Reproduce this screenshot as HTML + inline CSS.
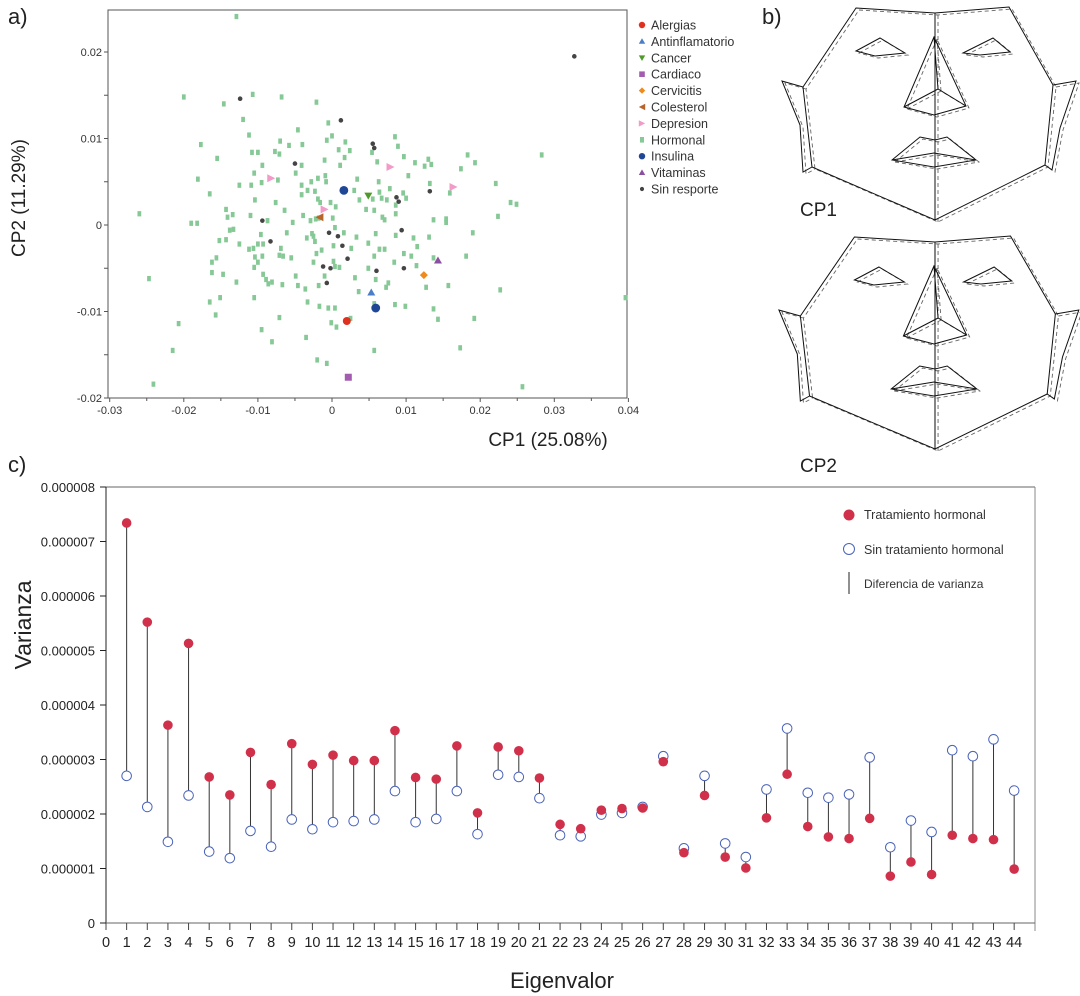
<!DOCTYPE html>
<html><head><meta charset="utf-8">
<style>
html,body{margin:0;padding:0;background:#fff;}
svg{display:block;font-family:"Liberation Sans",sans-serif;}
</style></head>
<body>
<svg id="fig" width="1080" height="996" viewBox="0 0 1080 996" xmlns="http://www.w3.org/2000/svg">
<text x="8" y="24" font-size="22" fill="#222">a)</text>
<text x="762" y="24" font-size="22" fill="#222">b)</text>
<text x="8" y="472" font-size="22" fill="#222">c)</text>
<g id="pa"></g>
<g id="pb"></g>
<g id="pc"></g>
</svg>
<script>
// ---------- Panel a data (values x1000) ----------
const hormX=[-12.9,-20.0,-10.7,-6.8,-14.6,-2.1,-12.0,-0.5,-11.2,-4.6,0.0,-0.7,8.5,-17.7,-7.0,-5.8,-4.0,1.8,8.9,-10.8,-10.0,-7.7,-7.1,0.9,2.4,5.4,-15.5,-9.4,-1.0,1.7,1.1,6.1,9.7,11.2,12.5,13.0,13.4,18.3,19.3,17.4,28.3,-10.5,-18.1,-7.3,-4.9,-4.1,-1.9,-0.9,-2.8,-0.8,3.4,6.3,10.3,13.2,22.1,-12.5,-10.9,-9.5,-4.1,-3.3,-2.3,-1.9,-1.6,-10.4,-16.5,-7.6,-4.1,-0.2,0.5,3.0,3.7,5.5,6.4,6.7,7.4,7.8,8.6,9.6,10.0,15.9,24.1,24.9,-26.0,-19.0,-18.2,-14.3,-14.1,-13.4,-11.0,-8.7,-6.4,-5.3,-3.9,-2.9,-2.2,-1.8,0.1,4.6,5.7,6.8,7.1,8.6,13.7,15.4,15.4,22.4,-13.8,-13.3,-9.6,-6.1,-2.7,-2.5,0.4,1.6,5.9,8.6,11.0,13.1,19.0,-15.2,-14.3,-12.5,-11.2,-10.6,-10.0,-9.3,-6.9,-3.4,-2.3,-1.4,0.2,2.6,3.3,4.9,6.4,7.1,11.5,9.7,10.7,13.7,18.1,-16.2,-15.6,-10.4,-9.4,-10.0,-7.1,-6.6,-5.5,-2.1,-2.5,0.2,5.7,8.4,-10.5,-9.3,-8.9,-8.6,-8.1,-6.7,-4.9,-1.0,-1.8,0.4,1.0,3.1,4.9,5.9,7.6,7.3,11.4,12.7,15.7,22.7,-16.2,-14.7,-12.9,-24.7,-16.5,-15.1,-10.5,-3.3,-3.6,3.6,-1.7,-0.5,0.4,5.7,8.5,9.9,13.7,39.6,-20.7,-15.7,-7.1,-9.5,-8.1,-0.1,0.6,14.3,19.2,-3.5,-21.5,5.7,17.3,-2.0,-0.7,-24.1,25.7,2.5,-4.6];
const hormY=[24.1,14.8,15.1,14.8,14.0,14.2,12.2,11.8,10.4,11.0,10.3,9.8,10.2,9.3,9.7,9.2,9.3,9.6,9.1,8.4,8.4,8.5,8.2,8.7,8.6,8.4,7.7,6.9,7.5,7.8,6.9,7.3,7.9,7.2,6.8,7.6,7.0,8.1,7.2,6.5,8.1,6.0,5.3,5.2,6.0,6.9,5.4,5.7,5.0,5.0,5.3,5.0,5.7,4.8,4.8,4.6,4.6,4.9,4.6,4.0,3.9,3.0,2.6,2.9,3.6,2.6,3.5,2.6,2.1,4.0,2.9,3.0,3.8,3.1,2.9,4.2,2.3,3.7,3.1,3.7,2.6,2.4,1.3,0.2,0.2,1.8,0.9,1.2,1.1,0.5,1.7,0.3,1.1,0.5,0.7,0.8,0.8,1.8,1.7,0.9,0.6,1.3,0.6,0.7,0.3,1.0,-0.6,-0.5,-1.1,-0.9,-1.0,-1.3,-0.3,-0.9,-1.0,-1.2,-1.5,-1.4,-0.9,-1.8,-1.7,-2.2,-2.8,-2.7,-2.2,-2.2,-2.7,-1.5,-1.9,-2.9,-2.4,-2.7,-1.4,-2.1,-2.8,-2.8,-2.5,-3.3,-3.6,-3.8,-3.6,-4.3,-3.8,-3.7,-3.6,-4.3,-3.5,-3.6,-3.8,-3.3,-4.3,-4.2,-3.6,-4.3,-4.9,-5.7,-6.3,-6.8,-6.6,-6.9,-5.9,-5.9,-7.0,-4.8,-4.9,-6.1,-5.0,-6.3,-6.7,-7.2,-4.7,-7.2,-7.0,-7.5,-5.5,-5.7,-6.6,-6.2,-8.9,-8.4,-8.4,-8.9,-7.4,-7.7,-9.4,-9.6,-9.6,-9.1,-9.2,-9.4,-9.7,-8.4,-11.4,-10.4,-10.7,-12.1,-13.5,-11.3,-11.8,-10.9,-10.8,-13.0,-14.5,-14.5,-14.2,-15.6,-16.0,-18.4,-18.7,-10.8,-7.0];
const sinX=[32.7,-12.4,1.2,5.5,5.7,-5.0,13.2,8.7,9.0,-9.4,-8.3,9.4,-0.4,0.8,1.4,2.1,-1.2,-0.2,6.0,9.7,-0.7];
const sinY=[19.5,14.6,12.1,9.4,8.9,7.1,3.9,3.2,2.7,0.5,-1.9,-0.6,-0.9,-1.3,-2.4,-3.9,-4.8,-5.0,-5.3,-5.0,-6.7];
const depX=[-8.2,7.9,16.4,-1.0], depY=[5.4,6.7,4.4,1.8];
const insX=[1.6,5.9], insY=[4.0,-9.6];
const others=[
 {cat:'Cancer',x:4.9,y:3.4},{cat:'Vitaminas',x:14.3,y:-4.1},{cat:'Cervicitis',x:12.4,y:-5.8},
 {cat:'Antinflamatorio',x:5.3,y:-7.8},{cat:'Alergias',x:2.0,y:-11.1},{cat:'Cardiaco',x:2.2,y:-17.6},{cat:'Colesterol',x:-1.7,y:0.9}];
const legendCats=['Alergias','Antinflamatorio','Cancer','Cardiaco','Cervicitis','Colesterol','Depresion','Hormonal','Insulina','Vitaminas','Sin resporte'];
const xTicksA=[-30,-20,-10,0,10,20,30,40];
const xTickLabA=['-0.03','-0.02','-0.01','0','0.01','0.02','0.03','0.04'];
const yTicksA=[20,10,0,-10,-20];
const yTickLabA=['0.02','0.01','0','-0.01','-0.02'];

// ---------- Panel c data (x1e-6) ----------
const eig=[1,2,3,4,5,6,7,8,9,10,11,12,13,14,15,16,17,18,19,20,21,22,23,24,25,26,27,28,29,30,31,32,33,34,35,36,37,38,39,40,41,42,43,44];
const hormVar=[7.34,5.52,3.63,5.13,2.68,2.35,3.13,2.54,3.29,2.91,3.08,2.98,2.98,3.53,2.67,2.64,3.25,2.02,3.23,3.16,2.66,1.81,1.73,2.07,2.10,2.11,2.96,1.29,2.34,1.21,1.01,1.93,2.73,1.77,1.58,1.55,1.92,0.86,1.12,0.89,1.61,1.55,1.53,0.99];
const sinVar=[2.70,2.13,1.49,2.34,1.31,1.19,1.69,1.40,1.90,1.72,1.85,1.87,1.90,2.42,1.85,1.91,2.42,1.63,2.72,2.68,2.29,1.61,1.59,1.99,2.02,2.13,3.06,1.37,2.70,1.46,1.21,2.45,3.57,2.39,2.30,2.36,3.04,1.39,1.88,1.67,3.17,3.06,3.37,2.43];
const yTicksC=[0,1,2,3,4,5,6,7,8];
const yTickLabC=['0','0.000001','0.000002','0.000003','0.000004','0.000005','0.000006','0.000007','0.000008'];

const NS='http://www.w3.org/2000/svg';
function mk(parent,tag,attrs,text){const e=document.createElementNS(NS,tag);for(const k in attrs)e.setAttribute(k,attrs[k]);if(text!==undefined)e.textContent=text;parent.appendChild(e);return e;}

// ===== Panel a =====
const pa=document.getElementById('pa');
const AL=108,AR=627,AT=10,AB=398;
const ax=v=>332+v*7.41;
const ay=v=>225-v*8.65;
let fr=mk(pa,'rect',{x:AL,y:AT,width:AR-AL,height:AB-AT,fill:'none',stroke:'#555','stroke-width':1});

for(let i=0;i<xTicksA.length;i++){
  const x=ax(xTicksA[i]);
  mk(pa,'line',{x1:x,y1:AB,x2:x,y2:AB+4,stroke:'#555'});
  if(i<xTicksA.length-1){const xm=ax(xTicksA[i]+5);mk(pa,'line',{x1:xm,y1:AB,x2:xm,y2:AB+3,stroke:'#555'});}
  const t=mk(pa,'text',{x:x,y:AB+16,'font-size':11,'text-anchor':'middle',fill:'#333'},xTickLabA[i]);
  
}
for(let v=-20;v<=24;v+=5){const y=ay(v);mk(pa,'line',{x1:AL-4,y1:y,x2:AL,y2:y,stroke:'#555'});}
for(let i=0;i<yTicksA.length;i++){
  const t=mk(pa,'text',{x:AL-6,y:ay(yTicksA[i])+4,'font-size':11,'text-anchor':'end',fill:'#333'},yTickLabA[i]);
  
}
let t1=mk(pa,'text',{x:548,y:446,'font-size':19,'text-anchor':'middle',fill:'#222'},'CP1 (25.08%)');

let t2=mk(pa,'text',{x:0,y:0,'font-size':19,'text-anchor':'middle',fill:'#222',transform:'translate(25,198) rotate(-90)'},'CP2 (11.29%)');


const colors={Alergias:'#e0301e',Antinflamatorio:'#4a7fc8',Cancer:'#4f9a2a',Cardiaco:'#a45cb0',Cervicitis:'#f08a1c',Colesterol:'#b8642a',Depresion:'#f29ac8',Hormonal:'#86c996',Insulina:'#1f4796',Vitaminas:'#8a4fa0','Sin resporte':'#444'};
function marker(g,cat,x,y,s){
  const c=colors[cat];let e;
  if(cat==='Hormonal') e=mk(g,'rect',{x:x-2.5*s,y:y-3.5*s,width:5*s,height:7*s,fill:c});
  else if(cat==='Sin resporte') e=mk(g,'circle',{cx:x,cy:y,r:2.3*s,fill:c});
  else if(cat==='Alergias'||cat==='Insulina') e=mk(g,'circle',{cx:x,cy:y,r:4*s,fill:c});
  else if(cat==='Antinflamatorio'||cat==='Vitaminas') e=mk(g,'polygon',{points:`${x},${y-4*s} ${x+4*s},${y+3*s} ${x-4*s},${y+3*s}`,fill:c});
  else if(cat==='Cancer') e=mk(g,'polygon',{points:`${x-4*s},${y-3*s} ${x+4*s},${y-3*s} ${x},${y+4*s}`,fill:c});
  else if(cat==='Cardiaco') e=mk(g,'rect',{x:x-3.5*s,y:y-3.5*s,width:7*s,height:7*s,fill:c});
  else if(cat==='Cervicitis') e=mk(g,'polygon',{points:`${x},${y-4*s} ${x+4*s},${y} ${x},${y+4*s} ${x-4*s},${y}`,fill:c});
  else if(cat==='Colesterol') e=mk(g,'polygon',{points:`${x+4*s},${y-4*s} ${x+4*s},${y+4*s} ${x-4*s},${y}`,fill:c});
  else if(cat==='Depresion') e=mk(g,'polygon',{points:`${x-4*s},${y-4*s} ${x-4*s},${y+4*s} ${x+4*s},${y}`,fill:c});
  return e;
}
const gH=mk(pa,'g',{});
for(let i=0;i<hormX.length;i++){
  const e=marker(gH,'Hormonal',ax(hormX[i]),ay(hormY[i]),0.75);
  
  
}
for(let i=0;i<sinX.length;i++){
  const e=marker(pa,'Sin resporte',ax(sinX[i]),ay(sinY[i]),1);
  
  
}
for(let i=0;i<depX.length;i++){
  const e=marker(pa,'Depresion',ax(depX[i]),ay(depY[i]),1);
  
  
}
for(let i=0;i<insX.length;i++){
  const e=marker(pa,'Insulina',ax(insX[i]),ay(insY[i]),1.1);
  
  
}
for(const o of others){
  const e=marker(pa,o.cat,ax(o.x),ay(o.y),1);
  
  
}
for(let i=0;i<legendCats.length;i++){
  const y=25+i*16.4;
  const g=mk(pa,'g',{});
  
  
  marker(g,legendCats[i],642,y,legendCats[i]==='Sin resporte'?0.9:0.8);
  mk(g,'text',{x:651,y:y+4.5,'font-size':12.5,fill:'#333'},legendCats[i]);
}

// ===== Panel b (faces) =====
const pb=document.getElementById('pb');
const faceSolid=[
 "M856,8 L935,13 L1009,7 L1053,85 L1045,165 L935,220 L812,167 L803,87 Z",
 "M935,13 L935,220",
 "M803,87 L782,81 L800,125 L803,172 L812,167",
 "M1053,85 L1076,81 L1060,128 L1052,170 L1045,165",
 "M856,51 L880,38 L905,53 L875,56 Z",
 "M963,53 L993,38 L1010,52 L980,55 Z",
 "M934,37 L904,107 L934,115 L966,106 Z M904,107 L938,89 L966,106 M938,89 L934,37",
 "M892,160 L920,137 L935,140 L947,137 L976,160 L934,167 Z M892,160 L934,153 L976,160"
];
function drawFace(dy,sx,idx){
  const g=mk(pb,'g',{transform:`translate(${935*(1-sx)},${dy}) scale(${sx},1)`});
  
  
  const gd=mk(g,'g',{transform:'translate(3,2)'});
  for(const d of faceSolid){mk(gd,'path',{d:d,fill:'none',stroke:'#666','stroke-width':0.9,'stroke-dasharray':'4,3'});}
  for(const d of faceSolid){mk(g,'path',{d:d,fill:'none',stroke:'#111','stroke-width':1});}
}
drawFace(0,1,1);
drawFace(229,1.02,2);
let c1=mk(pb,'text',{x:800,y:216,'font-size':19,fill:'#222'},'CP1');
let c2=mk(pb,'text',{x:800,y:472,'font-size':19,fill:'#222'},'CP2');

// ===== Panel c =====
const pc=document.getElementById('pc');
const CL=106,CR=1035,CT=487,CB=923;
const cx=i=>CL+i*20.64;
const cy=v=>CB-v*54.5;
mk(pc,'line',{x1:CL,y1:CT,x2:CR,y2:CT,stroke:'#666'});
mk(pc,'line',{x1:CR,y1:CT,x2:CR,y2:CB+8,stroke:'#888'});
mk(pc,'line',{x1:CL,y1:CT,x2:CL,y2:CB,stroke:'#222'});
mk(pc,'line',{x1:CL-6,y1:CB,x2:CR,y2:CB,stroke:'#666'});
for(let i=0;i<=44;i++){
  const x=cx(i);mk(pc,'line',{x1:x,y1:CB,x2:x,y2:CB+7,stroke:'#444'});
  const t=mk(pc,'text',{x:x,y:CB+24,'font-size':14.5,'text-anchor':'middle',fill:'#222'},String(i));
  
}
for(let i=0;i<yTicksC.length;i++){
  const y=cy(yTicksC[i]);mk(pc,'line',{x1:CL-6,y1:y,x2:CL,y2:y,stroke:'#222'});
  const t=mk(pc,'text',{x:CL-11,y:y+5,'font-size':13,'text-anchor':'end',fill:'#222'},yTickLabC[i]);
  
}
let t3=mk(pc,'text',{x:562,y:988,'font-size':22,'text-anchor':'middle',fill:'#222'},'Eigenvalor');

let t4=mk(pc,'text',{x:0,y:0,'font-size':23,'text-anchor':'middle',fill:'#222',transform:'translate(31,625) rotate(-90)'},'Varianza');

for(let i=0;i<eig.length;i++){
  const x=cx(eig[i]);
  const ln=mk(pc,'line',{x1:x,y1:cy(hormVar[i]),x2:x,y2:cy(sinVar[i]),stroke:'#333','stroke-width':1});
  
  
}
for(let i=0;i<eig.length;i++){
  const x=cx(eig[i]);
  const b=mk(pc,'circle',{cx:x,cy:cy(sinVar[i]),r:4.8,fill:'#fff',stroke:'#4a63b8','stroke-width':1});
  
  
  const r=mk(pc,'circle',{cx:x,cy:cy(hormVar[i]),r:4.8,fill:'#d0304a'});
  
  
}
const lg=mk(pc,'g',{});


mk(lg,'circle',{cx:849,cy:515,r:5.5,fill:'#d0304a'});
mk(lg,'text',{x:864,y:519,'font-size':12.5,fill:'#333'},'Tratamiento hormonal');
mk(lg,'circle',{cx:849,cy:549,r:5.5,fill:'#fff',stroke:'#4a63b8'});
mk(lg,'text',{x:864,y:554,'font-size':12.5,fill:'#333'},'Sin tratamiento hormonal');
mk(lg,'line',{x1:849,y1:572,x2:849,y2:594,stroke:'#222'});
mk(lg,'text',{x:864,y:588,'font-size':12,fill:'#333'},'Diferencia de varianza');
</script>
</body></html>
